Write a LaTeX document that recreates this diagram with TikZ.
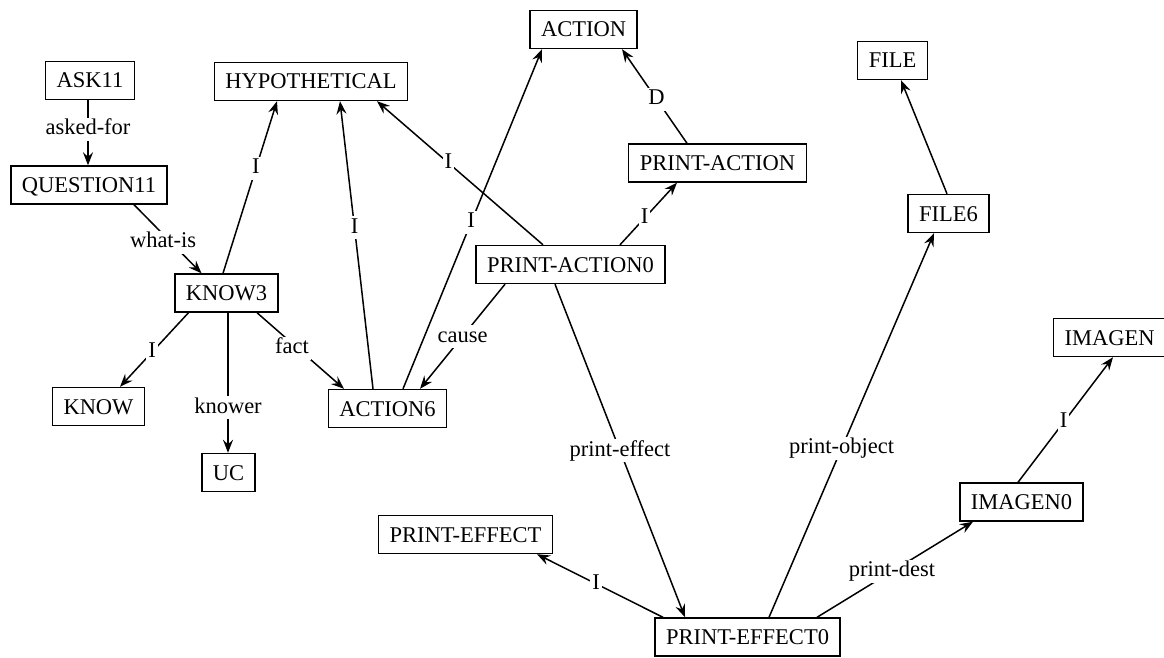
\documentclass[tikz,border=0pt]{standalone}
\usepackage{fontspec}
\setmainfont{Liberation Serif}
\usetikzlibrary{arrows.meta}
\begin{document}
\begin{tikzpicture}[x=1pt,y=-1pt,
  box/.style={draw, line width=1.4pt, font=\fontsize{22.5}{24}\selectfont, inner xsep=11pt, inner ysep=0pt, minimum height=38pt, text height=15pt, text depth=0pt},
  conn/.style={line width=1.5pt, -{Stealth[length=13pt,width=10pt,inset=4.5pt]}},
  lbl/.style={font=\fontsize{22.5}{24}\selectfont, fill=white, inner sep=2pt, text height=15pt, text depth=4pt}]
\useasboundingbox (0,0) rectangle (1164,658);
% nodes
\node[box] (ask) at (90,80.5) {ASK11};
\node[box] (hyp) at (311,81.5) {HYPOTHETICAL};
\node[box] (q) at (89,185) {QUESTION11};
\node[box] (act) at (583.5,29.5) {ACTION};
\node[box] (file) at (892.5,60.5) {FILE};
\node[box] (pa) at (717.5,163) {PRINT-ACTION};
\node[box] (file6) at (948.5,213.5) {FILE6};
\node[box] (k3) at (226.5,293) {KNOW3};
\node[box] (pa0) at (570.5,264.5) {PRINT-ACTION0};
\node[box] (im) at (1109.5,337.5) {IMAGEN};
\node[box] (know) at (98.5,406.5) {KNOW};
\node[box] (a6) at (387.5,408.5) {ACTION6};
\node[box] (uc) at (228.5,472.5) {UC};
\node[box] (im0) at (1021.5,502) {IMAGEN0};
\node[box] (pe) at (465.5,534.5) {PRINT-EFFECT};
\node[box] (pe0) at (747.5,637) {PRINT-EFFECT0};
% connectors
\draw[conn] ([xshift=-2]ask.south) -- node[lbl,pos=0.45]{asked-for} ([xshift=-1]q.north);
\draw[conn] ([xshift=45]q.south) -- node[lbl,pos=0.55,xshift=-8]{what-is} ([xshift=-25]k3.north);
\draw[conn] ([xshift=-3.5]k3.north) -- node[lbl,pos=0.61]{I} ([xshift=-34]hyp.south);
\draw[conn] ([xshift=-38]k3.south) -- node[lbl,pos=0.53]{I} ([xshift=21.5]know.north);
\draw[conn] ([xshift=1.5]k3.south) -- node[lbl,pos=0.68]{knower} ([xshift=-0.5]uc.north);
\draw[conn] ([xshift=30.5]k3.south) -- node[lbl,pos=0.47,xshift=-6]{fact} ([xshift=-43.5]a6.north);
\draw[conn] ([xshift=-14.5]a6.north) -- node[lbl,pos=0.56]{I} ([xshift=29]hyp.south);
\draw[conn] ([xshift=15.5]a6.north) -- node[lbl,pos=0.49]{I} ([xshift=-41.5]act.south);
\draw[conn] ([xshift=-65.5]pa0.south) -- node[lbl,pos=0.5]{cause} ([xshift=32.5]a6.north);
\draw[conn] ([xshift=-27.5]pa0.north) -- node[lbl,pos=0.57]{I} ([xshift=66]hyp.south);
\draw[conn] ([xshift=49.5]pa0.north) -- node[lbl,pos=0.43]{I} ([xshift=-40.5]pa.south);
\draw[conn] ([xshift=-30.5]pa.north) -- node[lbl,pos=0.47]{D} ([xshift=38.5]act.south);
\draw[conn] ([xshift=-15.5]pa0.south) -- node[lbl,pos=0.5]{print-effect} ([xshift=-62.5]pe0.north);
\draw[conn] ([xshift=-84.5]pe0.north) -- node[lbl,pos=0.53]{I} ([xshift=71.5]pe.south);
\draw[conn] ([xshift=21.5]pe0.north) -- node[lbl,pos=0.44]{print-object} ([xshift=-14.5]file6.south);
\draw[conn] ([xshift=-1.5]file6.north) -- ([xshift=8.5]file.south);
\draw[conn] ([xshift=69.5]pe0.north) -- node[lbl,pos=0.48]{print-dest} ([xshift=-48.5]im0.south);
\draw[conn] ([xshift=-3.5]im0.north) -- node[lbl,pos=0.48]{I} ([xshift=3.5]im.south);
\end{tikzpicture}
\end{document}
